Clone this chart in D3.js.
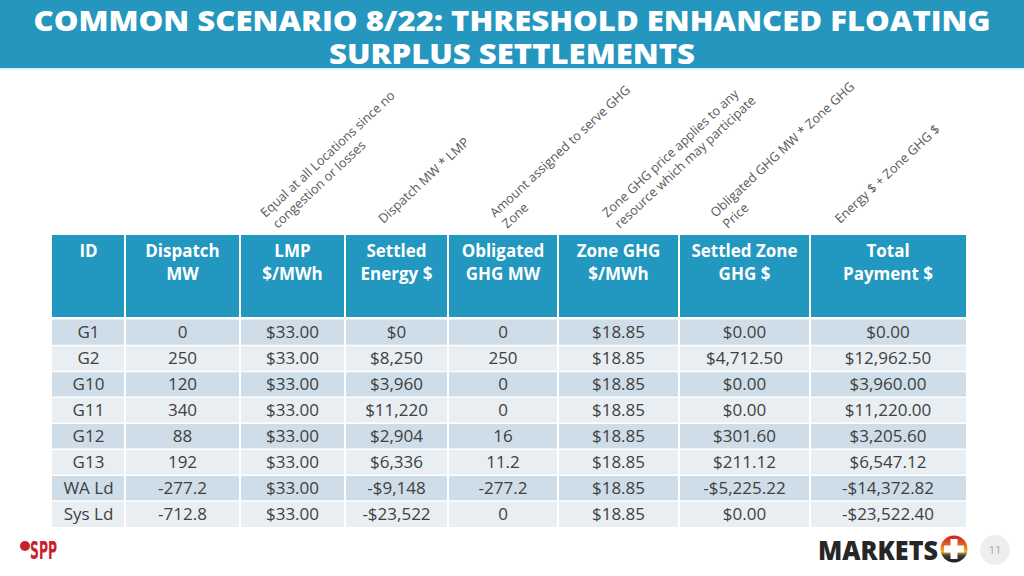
<!DOCTYPE html>
<html><head><meta charset="utf-8">
<script src="https://cdn.jsdelivr.net/npm/d3@7"></script>
<style>
html,body{margin:0;padding:0;background:#fff;}
svg{display:block;}
</style></head>
<body>
<svg id="c" width="1024" height="576"></svg>
<script>
// ---------- DATA ----------
const titleLines = ["COMMON SCENARIO 8/22: THRESHOLD ENHANCED FLOATING", "SURPLUS SETTLEMENTS"];
const headers = [["ID"], ["Dispatch", "MW"], ["LMP", "$/MWh"], ["Settled", "Energy $"], ["Obligated", "GHG MW"], ["Zone GHG", "$/MWh"], ["Settled Zone", "GHG $"], ["Total", "Payment $"]];
const notes = [null, null,
  ["Equal at all Locations since no", "congestion or losses"],
  ["Dispatch MW * LMP"],
  ["Amount assigned to serve GHG", "Zone"],
  ["Zone GHG price applies to any", "resource which may participate"],
  ["Obligated GHG MW * Zone GHG", "Price"],
  ["Energy $ + Zone GHG $"]];
const ids = ["G1", "G2", "G10", "G11", "G12", "G13", "WA Ld", "Sys Ld"];
const dispatchMW = [0, 250, 120, 340, 88, 192, -277.2, -712.8];
const lmp = [33, 33, 33, 33, 33, 33, 33, 33];
const settledEnergy = [0, 8250, 3960, 11220, 2904, 6336, -9148, -23522];
const obligatedMW = [0, 250, 0, 0, 16, 11.2, -277.2, 0];
const zoneGHG = [18.85, 18.85, 18.85, 18.85, 18.85, 18.85, 18.85, 18.85];
const settledGHG = [0, 4712.5, 0, 0, 301.6, 211.12, -5225.22, 0];
const totalPayment = [0, 12962.5, 3960, 11220, 3205.6, 6547.12, -14372.82, -23522.4];

// ---------- LAYOUT ----------
const colEdges = [52, 125, 240, 345, 448, 558, 679, 810, 966];
const noteDx = [0, 0, -27, -13, -8, -11, -29, -48];
const headerTop = 235, headerBottom = 317, bodyTop = 319.5, bodyBottom = 527;
const C = {title: "#2596be", header: "#2297bf", dark: "#cedde7", light: "#e8eef2", text: "#404040", note: "#595959"};

const loc = d3.formatLocale({decimal: ".", thousands: ",", grouping: [3], currency: ["$", ""], minus: "-"});
const fMoney0 = loc.format("$,.0f"), fMoney2 = loc.format("$,.2f"), fNum = v => String(v);
const columns = [
  {vals: ids, f: v => v},
  {vals: dispatchMW, f: fNum},
  {vals: lmp, f: fMoney2},
  {vals: settledEnergy, f: fMoney0},
  {vals: obligatedMW, f: fNum},
  {vals: zoneGHG, f: fMoney2},
  {vals: settledGHG, f: fMoney2},
  {vals: totalPayment, f: fMoney2}
];

const svg = d3.select("#c");
const FONT = "'Open Sans', 'Noto Sans', sans-serif";

// Title bar
svg.append("rect").attr("x", 0).attr("y", 0).attr("width", 1024).attr("height", 68).attr("fill", C.title);
svg.append("rect").attr("x", 0).attr("y", 68).attr("width", 1024).attr("height", 2).attr("fill", "#dff1f7");
const tl = [{t: titleLines[0], y: 31, len: 957}, {t: titleLines[1], y: 64, len: 366}];
svg.selectAll("text.title").data(tl).join("text").attr("class", "title")
  .attr("x", 512).attr("y", d => d.y).attr("text-anchor", "middle")
  .attr("textLength", d => d.len).attr("lengthAdjust", "spacingAndGlyphs")
  .style("font-family", FONT).style("font-weight", 800).style("font-size", "29px").attr("fill", "#fff")
  .text(d => d.t);

// Scales
const yRow = d3.scaleBand().domain(d3.range(ids.length)).range([bodyTop, bodyBottom]).paddingInner(0);
const cx = i => (colEdges[i] + colEdges[i + 1]) / 2;

// Header
svg.append("rect").attr("x", colEdges[0]).attr("y", headerTop).attr("width", colEdges[8] - colEdges[0])
  .attr("height", headerBottom - headerTop).attr("fill", C.header);
headers.forEach((h, i) => {
  h.forEach((line, j) => {
    svg.append("text").attr("x", cx(i)).attr("y", 257 + j * 23).attr("text-anchor", "middle")
      .style("font-family", FONT).style("font-weight", 700).style("font-size", "17px").attr("fill", "#fff")
      .text(line);
  });
});

// Body rows
const rows = svg.append("g");
rows.selectAll("rect").data(ids).join("rect")
  .attr("x", colEdges[0]).attr("y", (d, i) => yRow(i))
  .attr("width", colEdges[8] - colEdges[0]).attr("height", yRow.bandwidth())
  .attr("fill", (d, i) => i % 2 === 0 ? C.dark : C.light);
rows.selectAll("line.h").data(d3.range(1, ids.length)).join("line").attr("class", "h")
  .attr("x1", colEdges[0]).attr("x2", colEdges[8])
  .attr("y1", i => yRow(i)).attr("y2", i => yRow(i)).attr("stroke", "#fff").attr("stroke-width", 1.5);
svg.selectAll("line.v").data(colEdges.slice(1, -1)).join("line").attr("class", "v")
  .attr("x1", d => d).attr("x2", d => d).attr("y1", headerTop).attr("y2", bodyBottom)
  .attr("stroke", "#fff").attr("stroke-width", 2);

columns.forEach((col, ci) => {
  svg.append("g").selectAll("text").data(col.vals).join("text")
    .attr("x", cx(ci)).attr("y", (d, i) => yRow(i) + yRow.bandwidth() / 2 + 6)
    .attr("text-anchor", "middle").style("font-family", FONT).style("font-size", "17px")
    .attr("fill", C.text).text(d => col.f(d));
});

// Rotated notes
notes.forEach((n, i) => {
  if (!n) return;
  const g = svg.append("g").attr("transform", `translate(${cx(i) + noteDx[i]},${n.length > 1 ? 218 : 224}) rotate(-43)`);
  n.forEach((line, j) => {
    g.append("text").attr("x", j * 1.5).attr("y", j * 16.5)
      .style("font-family", FONT).style("font-size", "12.8px").attr("fill", C.note).text(line);
  });
});

// Footer: SPP logo
svg.append("circle").attr("cx", 25).attr("cy", 546).attr("r", 5).attr("fill", "#c9202f");
svg.append("text").attr("x", 30).attr("y", 559).attr("textLength", 27).attr("lengthAdjust", "spacingAndGlyphs")
  .style("font-family", "'Liberation Sans Narrow', 'DejaVu Sans Condensed', sans-serif").style("font-weight", 700)
  .style("font-size", "24px").attr("fill", "#c9202f").text("SPP");

// MARKETS logo
svg.append("text").attr("x", 818).attr("y", 560).attr("textLength", 120).attr("lengthAdjust", "spacingAndGlyphs")
  .style("font-family", FONT).style("font-weight", 800).style("font-size", "27px").attr("fill", "#262626").text("MARKETS");
const defs = svg.append("defs");
const gr = defs.append("linearGradient").attr("id", "pg").attr("x1", 0).attr("y1", 0).attr("x2", 0).attr("y2", 1);
[["0%", "#c8202f"], ["35%", "#e8641c"], ["60%", "#f4b321"], ["75%", "#3a3a3a"], ["100%", "#1e1e1e"]]
  .forEach(s => gr.append("stop").attr("offset", s[0]).attr("stop-color", s[1]));
svg.append("circle").attr("cx", 954).attr("cy", 549).attr("r", 13.5).attr("fill", "url(#pg)");
svg.append("rect").attr("x", 950.5).attr("y", 539).attr("width", 7).attr("height", 20).attr("fill", "#fff");
svg.append("rect").attr("x", 944).attr("y", 545.5).attr("width", 20).attr("height", 7).attr("fill", "#fff");

// Page number
svg.append("circle").attr("cx", 995).attr("cy", 550).attr("r", 15).attr("fill", "#eeeeee");
svg.append("text").attr("x", 995).attr("y", 554).attr("text-anchor", "middle")
  .style("font-family", FONT).style("font-size", "11px").attr("fill", "#a6a6a6").text("11");
</script>
</body></html>
